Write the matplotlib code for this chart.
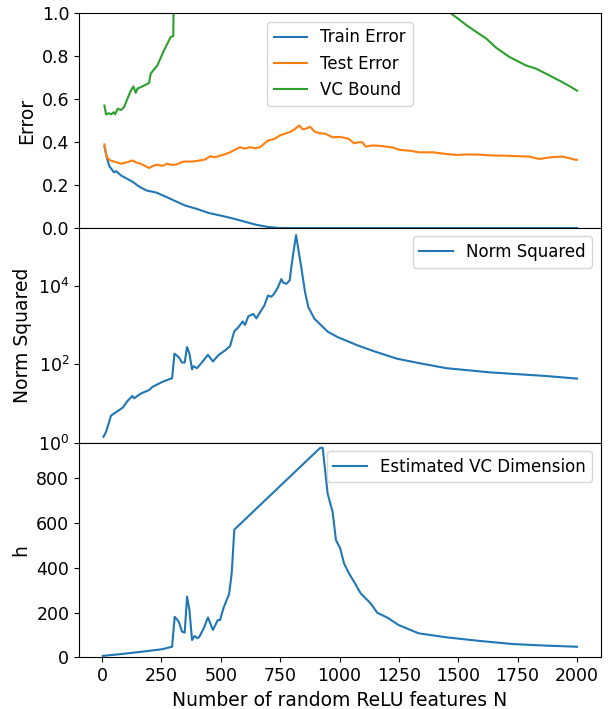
import matplotlib
matplotlib.use("Agg")
import matplotlib.pyplot as plt
from matplotlib.ticker import NullLocator

# --- top panel: errors and VC bound ---
train_n = [10, 20, 30, 50, 60, 80, 105, 130, 150, 170, 190, 210, 230, 250, 275,
           300, 320, 350, 400, 450, 500, 550, 600, 650, 700, 750, 800, 1000,
           1250, 1500, 1750, 2000]
train_err = [0.38, 0.33, 0.29, 0.26, 0.265, 0.245, 0.23, 0.215, 0.198, 0.185,
             0.174, 0.17, 0.165, 0.155, 0.143, 0.13, 0.12, 0.105, 0.089, 0.07,
             0.058, 0.045, 0.03, 0.015, 0.005, 0.0, 0.0, 0.0, 0.0, 0.0, 0.0, 0.0]

test_n = [10, 20, 35, 50, 65, 80, 100, 128, 145, 163, 180, 198, 215, 233, 255,
          274, 290, 309, 344, 380, 413, 435, 455, 475, 497, 520, 539, 560, 581,
          600, 623, 645, 665, 699, 725, 748, 770, 790, 810, 831, 845, 859, 876,
          895, 915, 940, 971, 1000, 1019, 1040, 1061, 1080, 1096, 1110, 1140,
          1172, 1221, 1256, 1300, 1333, 1395, 1450, 1493, 1540, 1590, 1650,
          1702, 1750, 1799, 1841, 1890, 1939, 1970, 1994, 2000]
test_err = [0.39, 0.33, 0.315, 0.31, 0.305, 0.30, 0.305, 0.315, 0.305, 0.30,
            0.29, 0.28, 0.29, 0.295, 0.29, 0.30, 0.295, 0.295, 0.31, 0.31,
            0.315, 0.32, 0.335, 0.33, 0.337, 0.345, 0.353, 0.365, 0.377, 0.37,
            0.377, 0.372, 0.377, 0.408, 0.415, 0.431, 0.44, 0.447, 0.46, 0.478,
            0.46, 0.463, 0.472, 0.45, 0.442, 0.44, 0.423, 0.425, 0.421, 0.415,
            0.395, 0.40, 0.40, 0.38, 0.385, 0.383, 0.376, 0.364, 0.36, 0.353,
            0.353, 0.345, 0.341, 0.343, 0.342, 0.338, 0.337, 0.335, 0.333,
            0.322, 0.33, 0.333, 0.325, 0.318, 0.318]

vc_n = [10, 17, 30, 38, 49, 55, 66, 80, 93, 107, 121, 132, 142, 149, 170, 198,
        205, 233, 261, 282, 289, 300, 310, 350, 400, 450, 500, 550, 600, 700,
        800, 900, 950, 1000, 1100, 1200, 1300, 1400, 1440, 1470, 1500, 1535,
        1576, 1618, 1660, 1716, 1785, 1827, 1883, 1938, 1980, 2000]
vc_bound = [0.571, 0.53, 0.535, 0.53, 0.54, 0.53, 0.556, 0.55, 0.564, 0.603,
            0.64, 0.66, 0.63, 0.65, 0.66, 0.676, 0.72, 0.758, 0.828, 0.875,
            0.89, 0.895, 1.8, 2.5, 1.6, 2.2, 2.4, 3.3, 3.5, 4.2, 4.9, 5.5,
            4.6, 3.6, 2.5, 1.9, 1.5, 1.15, 1.04, 1.0, 0.975, 0.945, 0.914,
            0.883, 0.84, 0.797, 0.758, 0.743, 0.712, 0.68, 0.654, 0.64]

# --- middle panel: norm squared ---
norm_n = [6, 17, 38, 87, 107, 128, 135, 163, 198, 212, 254, 289, 295, 305, 323,
          337, 348, 358, 368, 379, 385, 400, 420, 446, 467, 490, 518, 539, 557,
          574, 592, 602, 616, 637, 650, 664, 683, 699, 713, 724, 741, 755, 762,
          776, 790, 797, 806, 817, 838, 855, 869, 894, 950, 992, 1076, 1145,
          1242, 1340, 1451, 1632, 1869, 2000]
norm_sq = [1.4, 1.9, 4.9, 7.8, 11.5, 15.5, 13.5, 17.8, 21.9, 26.3, 35.5, 42.7,
           43.6, 186, 151, 110, 110, 275, 186, 74, 89, 79, 110, 174, 117, 170,
           224, 288, 692, 871, 1230, 1000, 1660, 1905, 1479, 2042, 3090, 5623,
           5248, 6166, 9120, 14790, 12020, 11220, 13490, 29510, 70800, 195000,
           32000, 6800, 2820, 1450, 676, 490, 302, 214, 138, 105, 79, 62, 50, 43]

# --- bottom panel: estimated VC dimension ---
h_n = [3, 87, 170, 254, 295, 306, 323, 337, 348, 358, 368, 379, 390, 402, 409,
       428, 446, 467, 487, 497, 511, 535, 546, 557, 919, 929, 950, 971, 985,
       1003, 1019, 1040, 1061, 1089, 1131, 1159, 1200, 1249, 1333, 1451, 1590,
       1729, 1869, 2000]
h_dim = [6, 15, 25, 36, 47, 181, 159, 114, 110, 271, 211, 77, 95, 85, 90, 129,
         178, 122, 166, 166, 219, 283, 375, 571, 937, 937, 732, 650, 524, 487,
         420, 375, 338, 286, 241, 199, 178, 144, 107, 89, 73, 59, 52, 47]

plt.rcParams['font.size'] = 12
plt.rcParams['axes.labelsize'] = 13.5
plt.rcParams['xtick.labelsize'] = 12.5
plt.rcParams['ytick.labelsize'] = 12.5

fig, (ax1, ax2, ax3) = plt.subplots(3, 1, sharex=True, figsize=(6.08, 7.09), dpi=100)
fig.subplots_adjust(left=0.13, right=0.988, top=0.981, bottom=0.073, hspace=0)

ax1.plot(train_n, train_err, label='Train Error')
ax1.plot(test_n, test_err, label='Test Error')
ax1.plot(vc_n, vc_bound, label='VC Bound')
ax1.set_ylim(0, 1)
ax1.set_ylabel('Error')
ax1.legend(loc='upper center')

ax2.plot(norm_n, norm_sq, label='Norm Squared')
ax2.set_yscale('log')
ax2.set_ylim(1, 10 ** 5.47)
ax2.set_yticks([1, 1e2, 1e4])
ax2.yaxis.set_minor_locator(NullLocator())
ax2.set_ylabel('Norm Squared')
ax2.legend(loc='upper right')

ax3.plot(h_n, h_dim, label='Estimated VC Dimension')
ax3.set_ylim(0, 960)
ax3.set_ylabel('h')
ax3.set_xlabel('Number of random ReLU features N')
ax3.legend(loc='upper right')

fig.savefig('out.png')
